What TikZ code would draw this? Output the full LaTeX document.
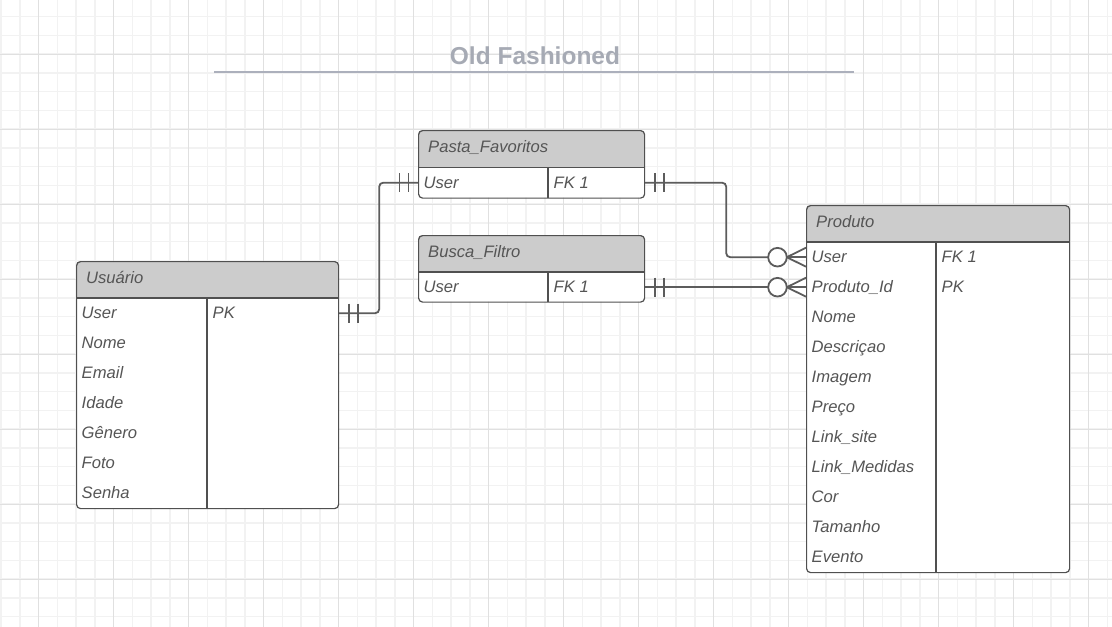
\documentclass[tikz,border=0pt]{standalone}
\usepackage{fontspec}
\setmainfont{Liberation Sans}
\usetikzlibrary{calc}
\definecolor{gridminor}{RGB}{242,242,242}
\definecolor{gridmajor}{RGB}{224,224,224}
\definecolor{hdrfill}{RGB}{204,204,204}
\definecolor{bordc}{RGB}{80,80,80}
\definecolor{txtc}{RGB}{85,85,85}
\definecolor{connc}{RGB}{92,92,92}
\definecolor{titlec}{RGB}{166,170,180}
\definecolor{titleline}{RGB}{172,176,188}
\newcommand\rowfont{\fontsize{16.6}{19}\selectfont\itshape}
\newcommand\ertab[8]{%
  % #1 name, #2 x1, #3 y1, #4 x2, #5 header bottom, #6 y2, #7 divider x, #8 title
  \fill[white, rounded corners=4pt] (#2,#3) rectangle (#4,#6);
  \fill[hdrfill, rounded corners=4pt] (#2,#3) rectangle (#4,#5);
  \fill[hdrfill] (#2,#5-6) rectangle (#4,#5);
  \draw[tline] (#2,#5) -- (#4,#5);
  \draw[tline] (#7,#5) -- (#7,#6);
  \node[tblbox, minimum width={(#4-#2)*1pt}, minimum height={(#6-#3)*1pt}] (#1) at (#2,#3) {};
  \node[hdrtxt] (#1-t) at (#2+10,#3+22.8) {#8};
}
\newcommand\dbar[2]{%
  \draw[conn] ($(#1)+(#2*9.5,-9.5)$) -- ++(0,19);
  \draw[conn] ($(#1)+(#2*18.5,-9.5)$) -- ++(0,19);
}
\newcommand\crowfoot[1]{%
  \draw[conn, fill=white] ($(#1)+(-28.5,0)$) circle[radius=9.3];
  \draw[conn] ($(#1)+(-19.2,0)$) -- ($(#1)+(0,-9.5)$);
  \draw[conn] ($(#1)+(-19.2,0)$) -- (#1);
  \draw[conn] ($(#1)+(-19.2,0)$) -- ($(#1)+(0,9.5)$);
}
\begin{document}
\begin{tikzpicture}[x=1pt,y=-1pt,
  tline/.style={draw=bordc, line width=1.2pt},
  tblbox/.style={draw=bordc, line width=1.2pt, rounded corners=4pt, inner sep=0pt, anchor=north west},
  hdrtxt/.style={anchor=base west, inner sep=0pt, font=\rowfont, text=txtc},
  rowt/.style={anchor=north west, inner xsep=5.5pt, inner ysep=0pt, minimum height=30pt,
    text height=14pt, text depth=3pt, font=\rowfont, text=txtc},
  conn/.style={draw=connc, line width=1.8pt},
  titletxt/.style={anchor=base, inner sep=0pt, font=\bfseries\fontsize{24.5}{28}\selectfont, text=titlec}]
\useasboundingbox (0,0) rectangle (1112,627);
\fill[white] (0,0) rectangle (1112,627);
% grid
\begin{scope}
\clip (0,0) rectangle (1112,627);
\foreach \i in {0,...,60} \draw[gridminor, line width=1.5pt] ({1+18.75*\i},0) -- ({1+18.75*\i},627);
\foreach \i in {-1,...,34} \draw[gridminor, line width=1.5pt] (0,{16.5+18.75*\i}) -- (1112,{16.5+18.75*\i});
\foreach \i in {0,...,14} \draw[gridmajor, line width=0.8pt] ({38.5+75*\i},0) -- ({38.5+75*\i},627);
\foreach \i in {0,...,7} \draw[gridmajor, line width=0.8pt] (0,{54+75*\i}) -- (1112,{54+75*\i});
\end{scope}
% title
\node[titletxt] (title) at (535,64) {Old Fashioned};
\draw[titleline, line width=2pt] (214,72) -- (854,72);
% tables
\ertab{usuario}{76}{261}{338}{298}{508}{207}{Usuário}
\ertab{pf}{418}{130}{644}{167.5}{197.5}{548}{Pasta\_Favoritos}
\ertab{bf}{418}{235}{644}{272}{301.5}{548}{Busca\_Filtro}
\ertab{prod}{806}{205}{1069}{242}{572}{936}{Produto}
% Usuario rows
\node[rowt] (u-user) at (76,298) {User};
\node[rowt] (u-user-k) at (207,298) {PK};
\node[rowt] (u-nome) at (76,328) {Nome};
\node[rowt] (u-email) at (76,358) {Email};
\node[rowt] (u-idade) at (76,388) {Idade};
\node[rowt] (u-genero) at (76,418) {Gênero};
\node[rowt] (u-foto) at (76,448) {Foto};
\node[rowt] (u-senha) at (76,478) {Senha};
% Pasta_Favoritos rows
\node[rowt] (pf-user) at (418,167.5) {User};
\node[rowt] (pf-user-k) at (548,167.5) {FK 1};
% Busca_Filtro rows
\node[rowt] (bf-user) at (418,272) {User};
\node[rowt] (bf-user-k) at (548,272) {FK 1};
% Produto rows
\node[rowt] (p-user) at (806,242) {User};
\node[rowt] (p-user-k) at (936,242) {FK 1};
\node[rowt] (p-id) at (806,272) {Produto\_Id};
\node[rowt] (p-id-k) at (936,272) {PK};
\node[rowt] (p-nome) at (806,302) {Nome};
\node[rowt] (p-desc) at (806,332) {Descriçao};
\node[rowt] (p-img) at (806,362) {Imagem};
\node[rowt] (p-preco) at (806,392) {Preço};
\node[rowt] (p-link) at (806,422) {Link\_site};
\node[rowt] (p-med) at (806,452) {Link\_Medidas};
\node[rowt] (p-cor) at (806,482) {Cor};
\node[rowt] (p-tam) at (806,512) {Tamanho};
\node[rowt] (p-ev) at (806,542) {Evento};
% connection points
\coordinate (cu) at (usuario.east |- u-user);
\coordinate (cpfw) at (pf.west |- pf-user);
\coordinate (cpfe) at (pf.east |- pf-user);
\coordinate (cbfe) at (bf.east |- bf-user);
\coordinate (cpu) at (prod.west |- p-user);
\coordinate (cpid) at (prod.west |- p-id);
\coordinate (cpu-c) at ($(cpu)+(-37.8,0)$);
\coordinate (cpid-c) at ($(cpid)+(-37.8,0)$);
% connectors
\draw[conn, rounded corners=4pt] (cu) -- ++(40,0) |- (cpfw);
\draw[conn, rounded corners=4pt] (cpfe) -- ++(81,0) |- (cpu-c);
\draw[conn] (cbfe) -- (cpid-c);
\dbar{cu}{1}
\dbar{cpfw}{-1}
\dbar{cpfe}{1}
\dbar{cbfe}{1}
\crowfoot{cpu}
\crowfoot{cpid}
\end{tikzpicture}
\end{document}
